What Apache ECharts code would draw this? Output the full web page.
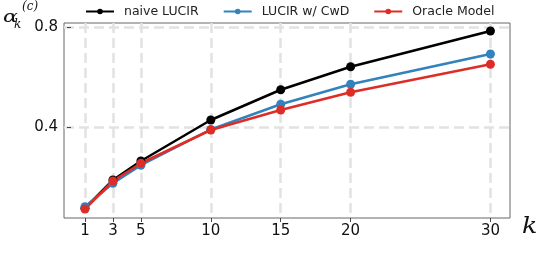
<!DOCTYPE html>
<html><head><meta charset="utf-8">
<script src="https://cdn.jsdelivr.net/npm/echarts@6/dist/echarts.min.js"></script>
<style>html,body{margin:0;padding:0;background:#fff}#c{width:545px;height:262px}</style>
</head><body><div id="c"></div>
<script>
const kValues = [1, 3, 5, 10, 15, 20, 30];
const naiveLUCIR = [0.075, 0.188, 0.264, 0.428, 0.549, 0.641, 0.784];
const lucirCwD = [0.081, 0.175, 0.247, 0.390, 0.491, 0.571, 0.692];
const oracleModel = [0.072, 0.184, 0.255, 0.388, 0.468, 0.539, 0.651];
const xTicks = [1, 3, 5, 10, 15, 20, 30];
const yTicks = [0.4, 0.8];
const seriesNames = ['naive LUCIR', 'LUCIR w/ CwD', 'Oracle Model'];
const colors = ['#000000', '#3182bd', '#de2d26'];

const chart = echarts.init(document.getElementById('c'), null, {renderer: 'canvas'});
const font = 'DejaVu Sans';
function mk(name, vals, color) {
  return {
    name, type: 'line', data: kValues.map((k, i) => [k, vals[i]]),
    symbol: 'circle', symbolSize: 9, color,
    lineStyle: {width: 2.5, color}, itemStyle: {color},
    z: 3
  };
}
chart.setOption({
  animation: false,
  textStyle: {fontFamily: font},
  legend: {
    top: 0, left: 80, itemWidth: 28, itemHeight: 7, itemGap: 24,
    textStyle: {fontSize: 12.5, color: '#222', fontFamily: font, padding: [0, 0, 0, 5]},
    data: seriesNames
  },
  grid: {left: 64, right: 35, top: 23, bottom: 44, show: true, borderColor: '#666', borderWidth: 1, containLabel: false},
  xAxis: {
    type: 'value', min: -0.5, max: 31.4,
    axisLine: {show: false},
    axisTick: {show: true, length: 4, lineStyle: {color: '#444'}, customValues: xTicks},
    axisLabel: {fontSize: 15, color: '#111', fontFamily: font, margin: 6, customValues: xTicks},
    splitLine: {show: true, lineStyle: {color: '#e2e2e2', width: 2.5, type: [10, 5]}}
  },
  yAxis: {
    type: 'value', min: 0.036, max: 0.816,
    axisLine: {show: false},
    axisTick: {show: true, length: 4, lineStyle: {color: '#444'}, customValues: yTicks},
    axisLabel: {fontSize: 15, color: '#111', fontFamily: font, margin: 6, customValues: yTicks, formatter: v => v.toFixed(1)},
    splitLine: {show: true, lineStyle: {color: '#e2e2e2', width: 2.5, type: [10, 5]}}
  },
  graphic: [{
    type: 'text', left: 3, top: 9, scaleX: 1.3, originX: 3,
    style: {text: 'α', fontSize: 17, fontStyle: 'italic', fontFamily: 'DejaVu Serif', fill: '#111'}
  }, {
    type: 'text', left: 22, top: 1,
    style: {text: '(c)', fontSize: 12, fontStyle: 'italic', fontFamily: 'DejaVu Serif', fill: '#111'}
  }, {
    type: 'text', left: 14, top: 19,
    style: {text: 'k', fontSize: 12, fontStyle: 'italic', fontFamily: 'DejaVu Serif', fill: '#111'}
  }, {
    type: 'text', left: 522, top: 216, scaleX: 1.15, originX: 522,
    style: {text: 'k', fontSize: 22, fontStyle: 'italic', fontFamily: 'DejaVu Serif', fill: '#111'}
  }],
  series: [mk(seriesNames[0], naiveLUCIR, colors[0]), mk(seriesNames[1], lucirCwD, colors[1]), mk(seriesNames[2], oracleModel, colors[2])]
});
</script></body></html>
